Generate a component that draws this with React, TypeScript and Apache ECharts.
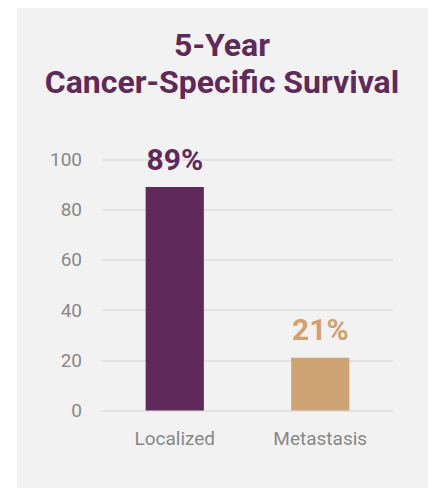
import React, { useEffect, useRef } from "react";
import * as echarts from "echarts";

const categories = ["Localized", "Metastasis"];
const values = [89, 21];
const barColors = ["#5f2a5a", "#cfa474"];
const labelColors = ["#5f2a5a", "#d1a26f"];
const yTicks = [0, 20, 40, 60, 80, 100];
const titleLines = ["5-Year", "Cancer-Specific Survival"];

export default function App() {
  const ref = useRef<HTMLDivElement>(null);
  useEffect(() => {
    if (!ref.current) return;
    const chart = echarts.init(ref.current, undefined, { renderer: "svg" });
    chart.setOption({
      animation: false,
      graphic: [
        {
          type: "rect",
          z: -10,
          silent: true,
          shape: { x: 17, y: 8, width: 411, height: 480 },
          style: { fill: "#f2f2f2" },
        },
        {
          type: "text",
          x: 222,
          y: 26,
          style: {
            text: titleLines.join("\n"),
            textAlign: "center",
            textVerticalAlign: "top",
            fontFamily: "Roboto",
            fontWeight: "bold",
            fontSize: 32,
            lineHeight: 37,
            fill: "#5f2a5a",
          },
        },
      ],
      grid: { left: 102, right: 41, top: 159.5, height: 251, containLabel: false },
      xAxis: {
        type: "category",
        data: categories,
        axisLine: { show: true, lineStyle: { color: "#e3e3e3", width: 2 } },
        axisTick: { show: false },
        axisLabel: {
          color: "#888888",
          fontFamily: "Roboto",
          fontSize: 19,
          margin: 18,
        },
      },
      yAxis: {
        type: "value",
        min: yTicks[0],
        max: yTicks[yTicks.length - 1],
        interval: 20,
        axisLine: { show: false },
        axisTick: { show: false },
        splitLine: { lineStyle: { color: "#e3e3e3", width: 2 } },
        axisLabel: {
          color: "#888888",
          fontFamily: "Roboto",
          fontSize: 19,
          margin: 20,
        },
      },
      series: [
        {
          type: "bar",
          barWidth: "40%",
          data: values.map((v, i) => ({
            value: v,
            itemStyle: { color: barColors[i] },
            label: { color: labelColors[i] },
          })),
          label: {
            show: true,
            position: "top",
            distance: 13,
            formatter: "{c}%",
            fontFamily: "Roboto",
            fontWeight: "bold",
            fontSize: 30,
          },
        },
      ],
    });
    return () => chart.dispose();
  }, []);
  return (
    <div
      ref={ref}
      style={{ position: "absolute", left: 0, top: 0, width: 434, height: 488 }}
    />
  );
}
